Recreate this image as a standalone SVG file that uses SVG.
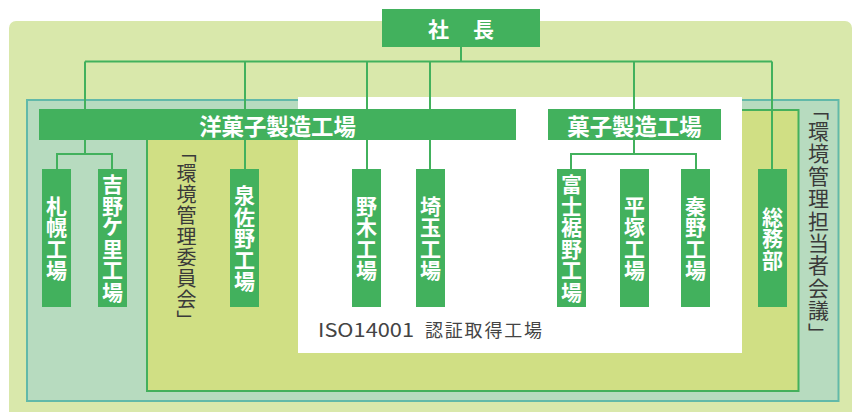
<svg xmlns="http://www.w3.org/2000/svg" width="854" height="412" viewBox="0 0 854 412">
<defs>
<style>
text{font-family:"Noto Sans CJK JP","Noto Sans",sans-serif}
.box{fill:#42b15d}
.bt{fill:#fff;font-weight:bold;font-size:21px;text-anchor:middle}
.ht{fill:#fff;font-weight:bold;font-size:22.4px;text-anchor:middle}
.lbl{fill:#3a3a3a;text-anchor:middle}
.ln{stroke:#42b15d;stroke-width:2;fill:none}
</style>
</defs>
<g id="regions">
<rect x="9" y="21" width="843" height="400" rx="7" fill="#d9e8ab"/>
<rect x="27" y="100" width="811.5" height="301" fill="#b7dbbf" stroke="#62b9a9" stroke-width="2"/>
<rect x="147" y="110" width="651.5" height="281" fill="#d0df84" stroke="#44b05c" stroke-width="2"/>
<rect x="298" y="97" width="444" height="256" fill="#fff"/>
</g>
<g id="connectors" class="ln">
<path d="M85 61.5H772M461 47V61.5M85 61.5V154M57 154H112M57 153V169M112 153V169M245 61.5V169M367 61.5V169M430 61.5V169M634 61.5V154M571 154H696M571 153V169M696 153V169M772 61.5V169"/>
</g>
<g id="president">
<rect class="box" x="382" y="9" width="158" height="38"/>
<text class="bt" x="438.5 483.5" y="37 37">社長</text>
</g>
<g id="yogashi">
<rect class="box" x="39" y="109" width="477" height="31"/>
<text class="ht" x="277.5" y="134.5">洋菓子製造工場</text>
</g>
<g id="kashi">
<rect class="box" x="548" y="109" width="173" height="31"/>
<text class="ht" x="634.5" y="134.5">菓子製造工場</text>
</g>
<g id="sapporo">
<rect class="box" x="42" y="169" width="29" height="138"/>
<text class="bt" x="56.5 56.5 56.5 56.5" y="213.75 235.25 256.75 278.25">札幌工場</text>
</g>
<g id="yoshinogari">
<rect class="box" x="98" y="169" width="29" height="138"/>
<text class="bt" x="112.5 112.5" y="192.25 213.75">吉野</text>
<text class="bt" x="112.5" y="233.7" font-size="17">ケ</text>
<text class="bt" x="112.5 112.5 112.5" y="256.75 278.25 299.75">里工場</text>
</g>
<g id="izumisano">
<rect class="box" x="230" y="169" width="29" height="138"/>
<text class="bt" x="244.5 244.5 244.5 244.5 244.5" y="203 224.5 246 267.5 289">泉佐野工場</text>
</g>
<g id="nogi">
<rect class="box" x="352" y="169" width="29" height="138"/>
<text class="bt" x="366.5 366.5 366.5 366.5" y="213.75 235.25 256.75 278.25">野木工場</text>
</g>
<g id="saitama">
<rect class="box" x="416" y="169" width="29" height="138"/>
<text class="bt" x="430.5 430.5 430.5 430.5" y="213.75 235.25 256.75 278.25">埼玉工場</text>
</g>
<g id="fujisusono">
<rect class="box" x="557" y="169" width="29" height="138"/>
<text class="bt" x="571.5 571.5 571.5 571.5 571.5 571.5" y="192.25 213.75 235.25 256.75 278.25 299.75">富士裾野工場</text>
</g>
<g id="hiratsuka">
<rect class="box" x="620" y="169" width="29" height="138"/>
<text class="bt" x="634.5 634.5 634.5 634.5" y="213.75 235.25 256.75 278.25">平塚工場</text>
</g>
<g id="hadano">
<rect class="box" x="681" y="169" width="29" height="138"/>
<text class="bt" x="695.5 695.5 695.5 695.5" y="213.75 235.25 256.75 278.25">秦野工場</text>
</g>
<g id="somubu">
<rect class="box" x="758" y="169" width="29" height="138"/>
<text class="bt" x="772.5 772.5 772.5" y="224.5 246 267.5">総務部</text>
</g>
<g id="labels">
<text class="lbl" font-size="20" x="186.5 186.5 186.5 186.5 186.5 186.5 186.5 186.5 186.5" y="160.1 181.1 202.1 223.1 244.1 265.1 286.1 307.1 328.1">﹁環境管理委員会﹂</text>
<text class="lbl" font-size="21" x="818.5 818.5 818.5 818.5 818.5 818.5 818.5 818.5 818.5 818.5 818.5" y="116.6 139 161.4 183.8 206.2 228.6 251 273.4 295.8 318.2 340.6">﹁環境管理担当者会議﹂</text>
<text fill="#444" y="337"><tspan x="318" font-size="19" textLength="96" lengthAdjust="spacingAndGlyphs">ISO14001</tspan><tspan x="425" font-size="18" textLength="117" lengthAdjust="spacing">認証取得工場</tspan></text>
</g>
</svg>
